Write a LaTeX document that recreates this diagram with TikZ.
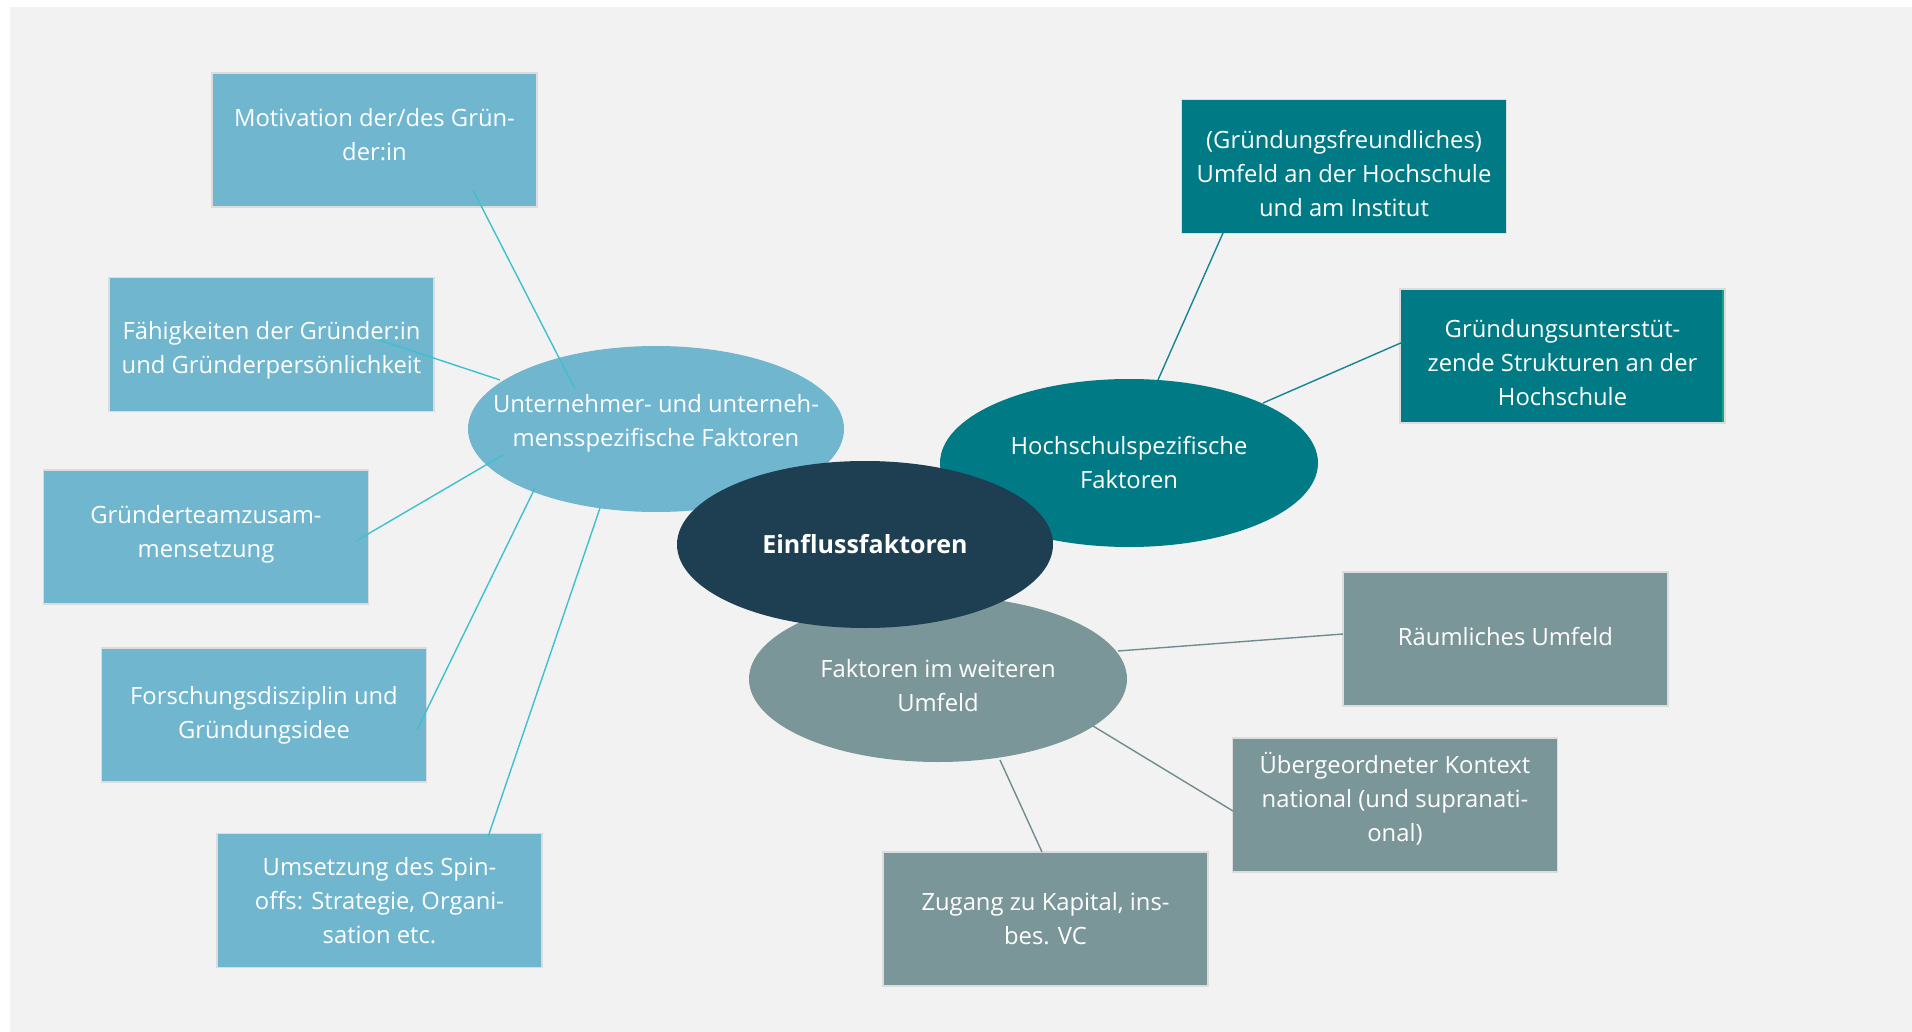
\documentclass[tikz,border=0pt]{standalone}
\usepackage{fontspec}
\setmainfont{Open Sans}
\usetikzlibrary{shapes.geometric,calc}

\definecolor{canvas}{HTML}{F2F2F2}
\definecolor{skyblue}{HTML}{6FB6CE}
\definecolor{deepteal}{HTML}{007A85}
\definecolor{slate}{HTML}{7B9698}
\definecolor{navy}{HTML}{1E3E52}
\definecolor{skyline}{HTML}{3FC0CE}
\definecolor{tealline}{HTML}{168491}
\definecolor{slateline}{HTML}{718C8E}
\definecolor{boxedge}{HTML}{DCDCDC}
\definecolor{accent}{HTML}{1CA27C}

\tikzset{
  every node/.style={text=white, align=center, inner sep=0pt,
    font=\fontsize{23.8}{34}\selectfont},
  leaf/.style={rectangle, minimum width=325pt, minimum height=134pt,
    draw=boxedge, line width=1.5pt},
  topic/.style={ellipse, minimum width=377pt, minimum height=167pt},
  link/.style={line width=1.4pt},
  greenedge/.style={path picture={
    \fill[accent] ([xshift=-3pt]path picture bounding box.north east)
      rectangle (path picture bounding box.south east);}}
}

\begin{document}
\begin{tikzpicture}[x=1pt,y=-1pt]
% page and canvas
\useasboundingbox (0,0) rectangle (1912,1032);
\fill[white] (0,0) rectangle (1912,1032);
\fill[canvas] (10,7) rectangle (1912,1032);

% leaf boxes, company-specific branch
\node[leaf, fill=skyblue] (m) at (374.5,140) {};
\node[leaf, fill=skyblue] (f) at (271.5,344.5) {};
\node[leaf, fill=skyblue] (t) at (206,537) {};
\node[leaf, fill=skyblue] (r) at (264,715) {};
\node[leaf, fill=skyblue] (s) at (379.5,900.5) {};

% leaf boxes, university branch
\node[leaf, fill=deepteal] (h1) at (1344,166.5) {};
\node[leaf, fill=deepteal, greenedge] (h2) at (1562.5,356) {};

% leaf boxes, wider environment branch
\node[leaf, fill=slate] (w1) at (1505.5,639) {};
\node[leaf, fill=slate] (w2) at (1395,805) {};
\node[leaf, fill=slate] (w3) at (1045.5,919) {};

% branch ellipses
\node[topic, fill=skyblue, minimum width=376pt, minimum height=166pt] (u) at (656,429) {};
\node[topic, fill=deepteal, minimum width=378pt, minimum height=168pt] (h) at (1129,463) {};
\node[topic, fill=slate, minimum width=378pt, minimum height=166pt] (w) at (938,679) {};

% connectors
\draw[link, skyline] ($(m)+(98.5,50)$) -- ($(u)+(-81,-40)$);
\draw[link, skyline] ($(f)+(101.5,-6.5)$) -- ($(u)+(-156,-49)$);
\draw[link, skyline] ($(t)+(150,4)$) -- ($(u)+(-153,26)$);
\draw[link, skyline] ($(r)+(153,15)$) -- ($(u)+(-121,59)$);
\draw[link, skyline] ($(s)+(108.5,-63.5)$) -- ($(u)+(-56,79)$);
\draw[link, tealline] ($(h1)+(-121,66.5)$) -- ($(h)+(29,-83)$);
\draw[link, tealline] ($(h2)+(-159.5,-14)$) -- ($(h)+(134,-60)$);
\draw[link, slateline] ($(w1)+(-162.5,-5)$) -- ($(w)+(180,-28)$);
\draw[link, slateline] ($(w2)+(-162,6)$) -- ($(w)+(155,47)$);
\draw[link, slateline] ($(w3)+(-3.5,-67)$) -- ($(w)+(62,81)$);

% box and branch texts
\node (mt) at ($(m)+(0,-5)$) {Motivation der/des Grün-\\der:in};
\node (ft) at ($(f)+(0,6)$) {Fähigkeiten der Gründer:in\\und Gründerpersönlichkeit};
\node (tt) at ($(t)+(0,-3)$) {Gründerteamzusam-\\mensetzung};
\node (rt) at (r) {Forschungsdisziplin und\\Gründungsidee};
\node (st) at (s) {Umsetzung des Spin-\\offs: Strategie, Organi-\\sation etc.};
\node (h1t) at ($(h1)+(0,7)$) {(Gründungsfreundliches)\\Umfeld an der Hochschule\\und am Institut};
\node (h2t) at ($(h2)+(0,7)$) {Gründungsunterstüt-\\zende Strukturen an der\\Hochschule};
\node (w1t) at ($(w1)+(0,-2)$) {Räumliches Umfeld};
\node (w2t) at ($(w2)+(0,-6)$) {Übergeordneter Kontext\\national (und supranati-\\onal)};
\node (w3t) at (w3) {Zugang zu Kapital, ins-\\bes. VC};
\node (ut) at ($(u)+(0,-6)$) {Unternehmer- und unterneh-\\mensspezifische Faktoren};
\node (ht) at (h) {Hochschulspezifische\\Faktoren};
\node (wt) at ($(w)+(0,7)$) {Faktoren im weiteren\\Umfeld};

% central topic
\node[topic, fill=navy, minimum width=376pt, minimum height=167pt,
  font=\fontsize{25}{34}\selectfont\bfseries] (c) at (865,544.5) {Einflussfaktoren};
\end{tikzpicture}
\end{document}
